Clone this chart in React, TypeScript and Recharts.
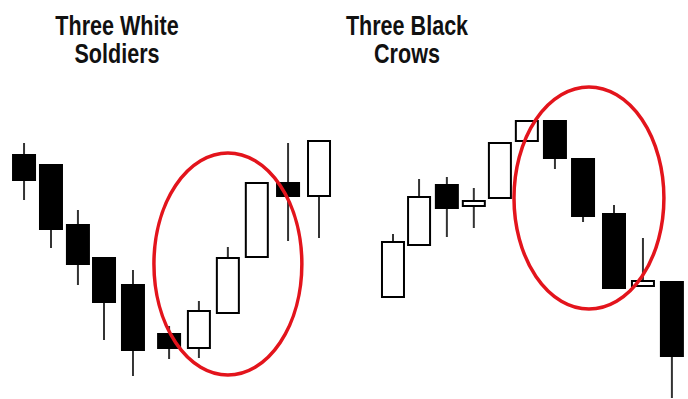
import React from "react";
import { ComposedChart, Bar, XAxis, YAxis, ReferenceArea } from "recharts";

// ── Three White Soldiers (left panel) ────────────────────────────────────────
const soldiersT = [0.84, 1.78, 2.72, 3.63, 4.64, 5.9, 6.94, 7.95, 8.96, 10.05, 11.13];
const soldiersOpen = [24.5, 23.5, 17.5, 14.2, 11.5, 6.6, 5.2, 8.7, 14.3, 21.7, 20.4];
const soldiersHigh = [25.7, 23.5, 19.0, 14.2, 13.0, 7.4, 9.9, 15.3, 21.7, 25.7, 25.9];
const soldiersLow = [20.0, 15.2, 11.5, 6.0, 2.4, 4.1, 4.2, 8.7, 14.3, 15.9, 16.2];
const soldiersClose = [22.0, 17.1, 13.6, 9.8, 5.0, 5.2, 8.9, 14.2, 21.7, 20.4, 25.9];
const soldiersZone = { x1: 5.37, x2: 10.53, y1: 2.5, y2: 24.7 };

// ── Three Black Crows (right panel) ──────────────────────────────────────────
const crowsT = [1.71, 2.62, 3.59, 4.53, 5.44, 6.38, 7.36, 8.34, 9.42, 10.43, 11.44];
const crowsOpen = [10.3, 15.5, 21.5, 19.4, 20.2, 25.9, 27.9, 24.1, 18.6, 11.4, 11.8];
const crowsHigh = [16.6, 22.1, 22.3, 21.2, 25.7, 27.9, 27.9, 24.1, 19.5, 16.2, 11.8];
const crowsLow = [10.3, 15.5, 16.3, 17.2, 20.2, 25.9, 23.1, 17.8, 11.2, 11.4, 0.2];
const crowsClose = [15.8, 20.3, 19.2, 19.9, 25.7, 27.9, 24.2, 18.4, 11.2, 11.9, 4.4];
const crowsZone = { x1: 5.93, x2: 11.16, y1: 9.1, y2: 31.3 };

const RED = "#e3141c";

function buildRows(t: number[], o: number[], h: number[], l: number[], c: number[]) {
  return t.map((tt, i) => ({
    t: tt,
    open: o[i],
    high: h[i],
    low: l[i],
    close: c[i],
    range: [l[i], h[i]],
  }));
}

const Candle = (props: any) => {
  const { x, y, width, height, payload } = props;
  const { open, close, high, low } = payload;
  const cx = x + width / 2;
  const k = height / (high - low);
  const yOf = (v: number) => y + (high - v) * k;
  const top = yOf(Math.max(open, close));
  const bot = yOf(Math.min(open, close));
  const up = close >= open;
  return (
    <g>
      <line x1={cx} x2={cx} y1={y} y2={y + height} stroke="#333" strokeWidth={2} />
      <rect
        x={x + 1}
        y={top}
        width={width - 2}
        height={Math.max(bot - top, 3)}
        fill={up ? "#fff" : "#000"}
        stroke="#000"
        strokeWidth={2}
      />
    </g>
  );
};

const Ring = (props: any) => {
  const { x, y, width, height } = props;
  return (
    <ellipse
      cx={x + width / 2}
      cy={y + height / 2}
      rx={width / 2}
      ry={height / 2}
      fill="none"
      stroke={RED}
      strokeWidth={3.5}
    />
  );
};

function Panel({ rows, zone }: { rows: any[]; zone: typeof soldiersZone }) {
  return (
    <ComposedChart width={344} height={399} data={rows} margin={{ top: 0, right: 0, bottom: 0, left: 0 }}>
      <XAxis dataKey="t" type="number" domain={[0, 12]} hide />
      <YAxis type="number" domain={[0.1, 40]} hide />
      <Bar dataKey="range" barSize={24} shape={<Candle />} isAnimationActive={false} />
      <ReferenceArea
        x1={zone.x1}
        x2={zone.x2}
        y1={zone.y1}
        y2={zone.y2}
        ifOverflow="visible"
        shape={<Ring />}
        zIndex={1000}
      />
    </ComposedChart>
  );
}

const titleStyle: React.CSSProperties = {
  position: "absolute",
  top: 12,
  width: 240,
  textAlign: "center",
  fontFamily: "'Liberation Sans', Arial, sans-serif",
  fontWeight: "bold",
  fontSize: 28,
  lineHeight: "28px",
  color: "#111",
  transform: "scaleX(0.77)",
};

export default function App() {
  const soldiers = buildRows(soldiersT, soldiersOpen, soldiersHigh, soldiersLow, soldiersClose);
  const crows = buildRows(crowsT, crowsOpen, crowsHigh, crowsLow, crowsClose);
  return (
    <div style={{ position: "absolute", left: 0, top: 0, width: 688, height: 399, background: "#fff" }}>
      <div style={{ position: "absolute", left: 0, top: 0 }}>
        <Panel rows={soldiers} zone={soldiersZone} />
      </div>
      <div style={{ position: "absolute", left: 344, top: 0 }}>
        <Panel rows={crows} zone={crowsZone} />
      </div>
      <div style={{ ...titleStyle, left: 117 - 120 }}>
        Three White
        <br />
        Soldiers
      </div>
      <div style={{ ...titleStyle, left: 407 - 120 }}>
        Three Black
        <br />
        Crows
      </div>
    </div>
  );
}
